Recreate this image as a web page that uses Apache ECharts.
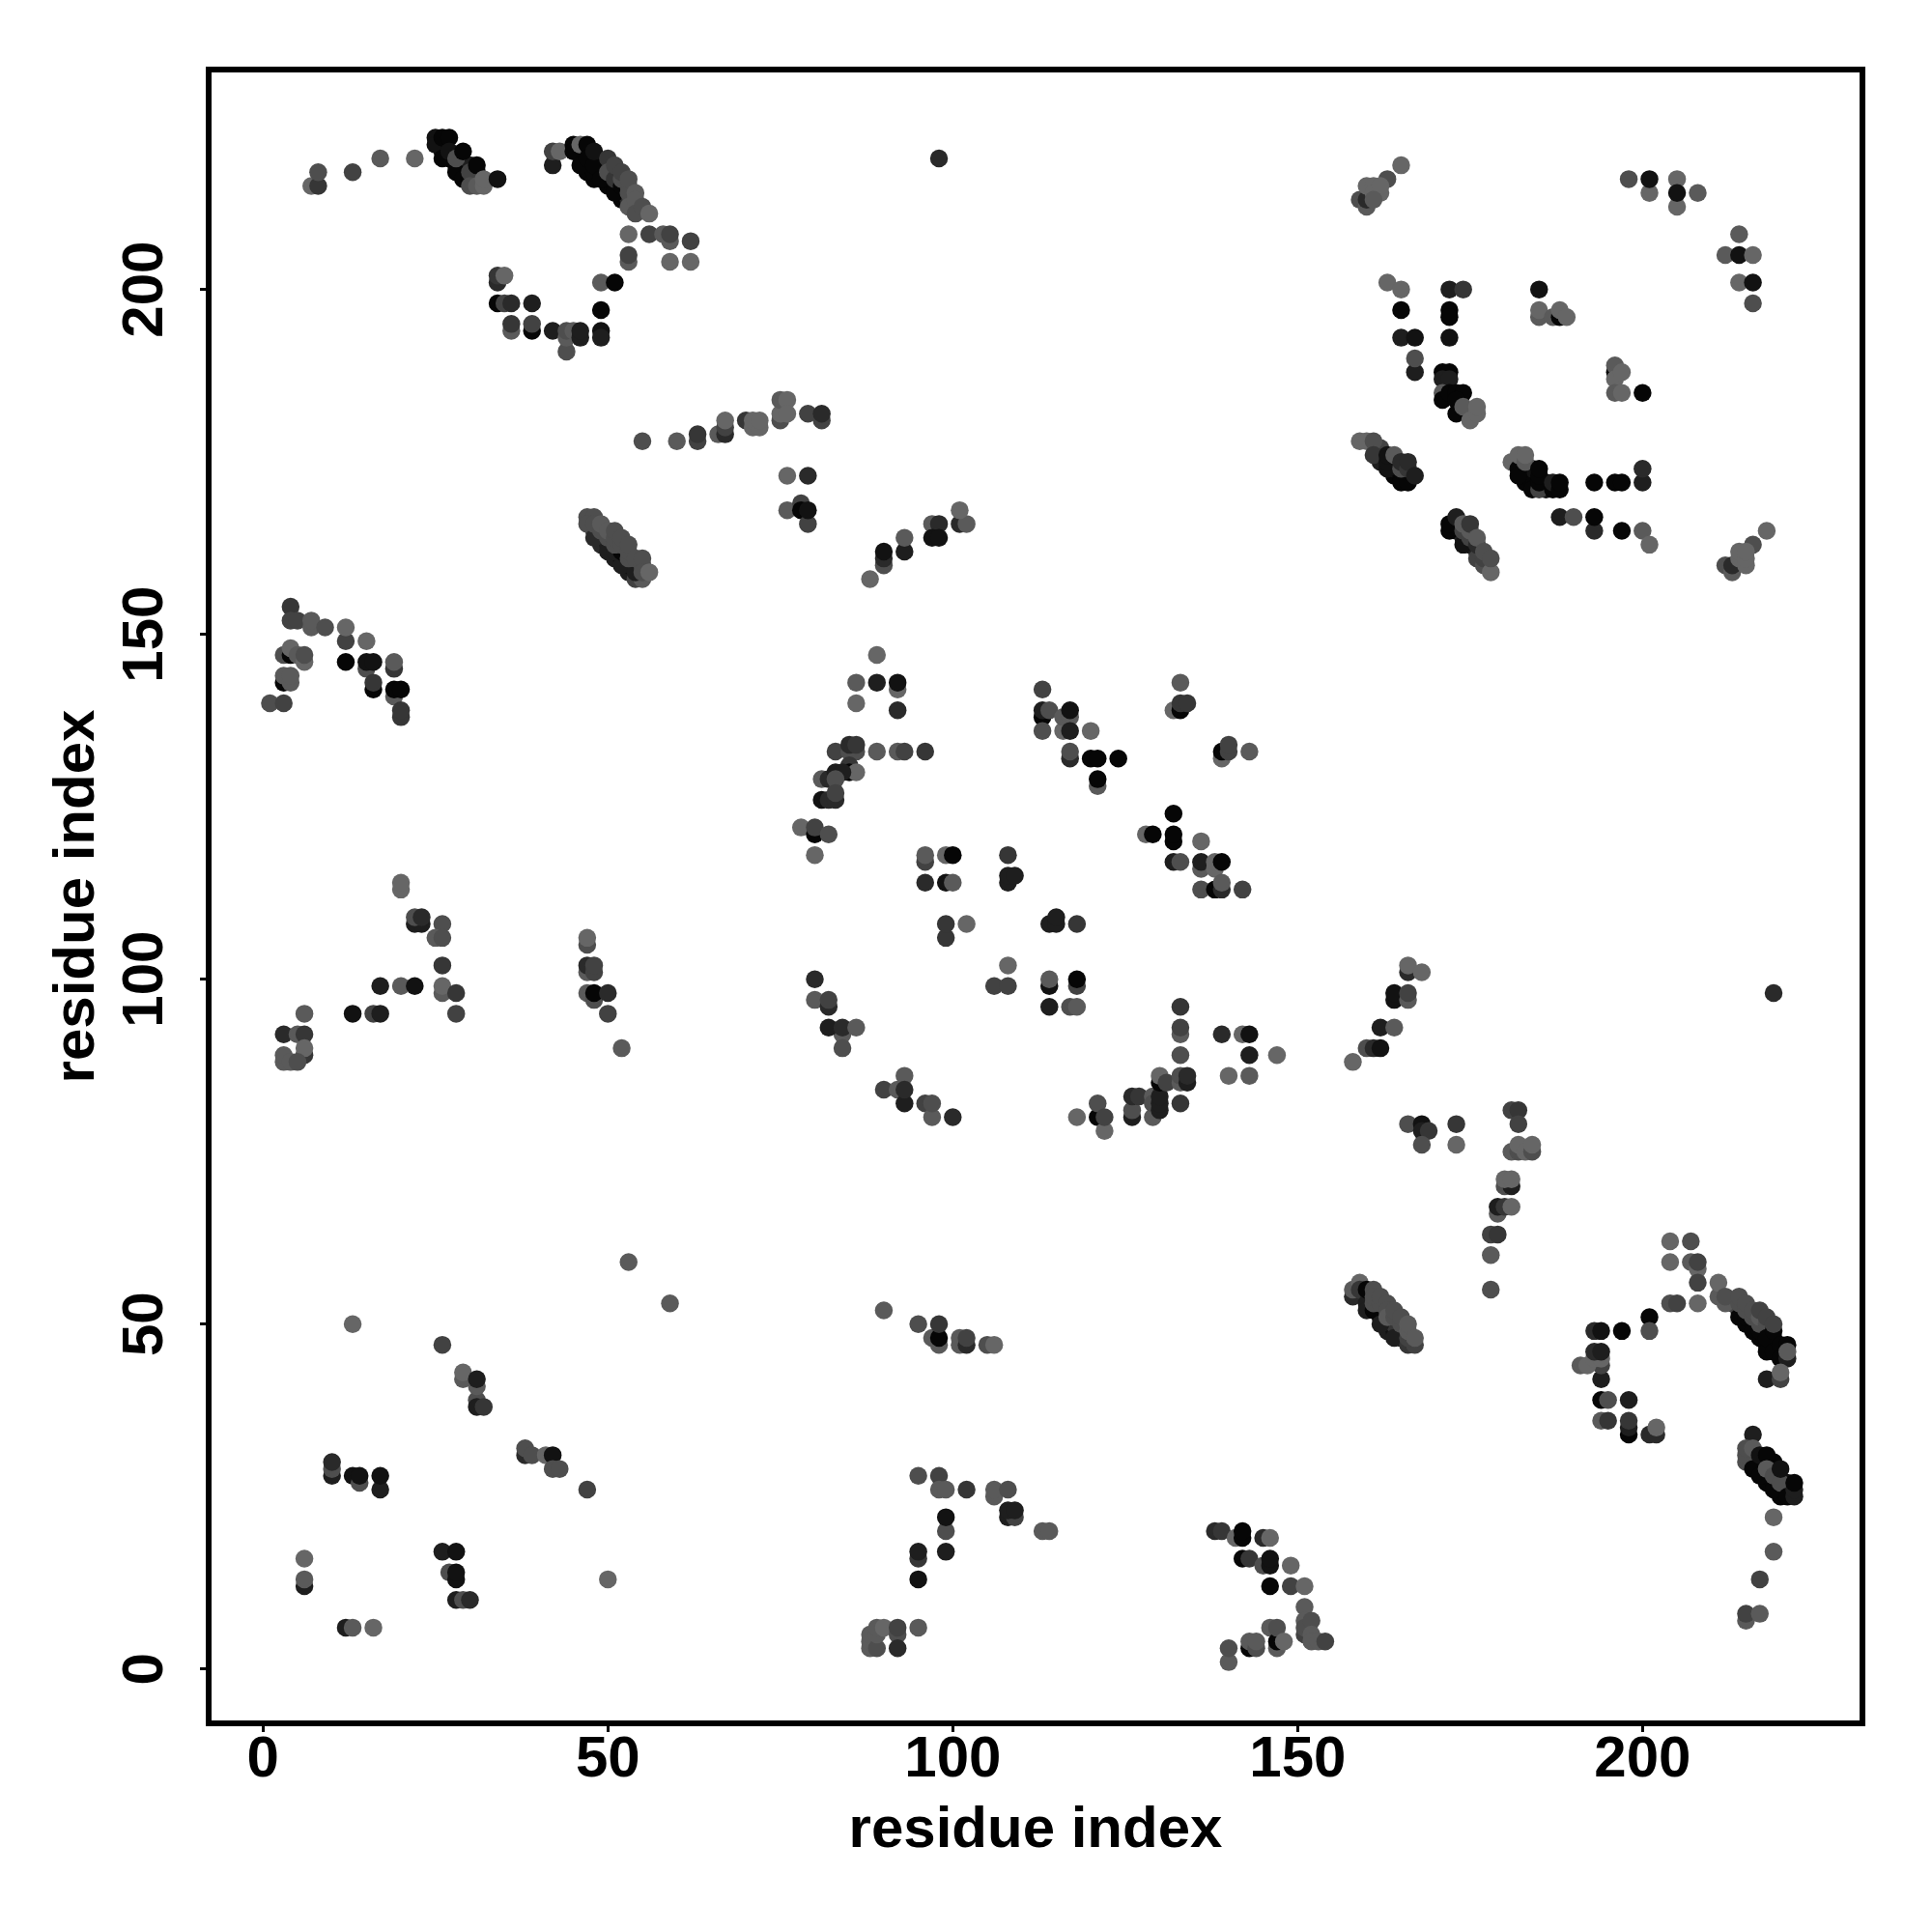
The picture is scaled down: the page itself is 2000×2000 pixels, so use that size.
<!DOCTYPE html>
<html>
<head>
<meta charset="utf-8">
<style>html,body{margin:0;padding:0;background:#fff}#c{width:2000px;height:2000px}</style>
<script src="https://cdn.jsdelivr.net/npm/echarts@6/dist/echarts.min.js"></script>
</head>
<body>
<div id="c"></div>
<script>
// Each contact: [residue i, residue j, strength 0..9]. Later entries are drawn on top.
const topLeftContacts = [
[7,215,1],[8,215,5],[8,217,3],[13,217,4],[17,219,2],[22,219,1],
[26,220,9],[27,219,9],[28,218,9],[29,218,8],[29,217,9],[30,218,7],[31,217,8],[31,216,8],
[25,222,8],[25,221,8],[26,222,9],[26,219,9],[27,222,9],[27,220,8],[28,217,9],[28,219,3],[29,220,9],[29,216,9],[30,216,9],[30,217,4],[31,218,9],[30,215,3],[31,215,2],[32,215,1],[32,216,1],[34,216,8],
[47,217,9],[48,216,9],[48,217,9],[49,217,9],[49,218,8],[50,215,9],[50,216,9],[51,215,9],[52,213,9],[52,214,9],[53,213,6],
[42,218,7],[42,220,4],[43,220,1],[45,221,9],[45,220,9],[46,218,9],[46,221,1],[47,221,9],[47,219,9],[48,218,9],[48,220,8],[49,216,9],[50,219,5],[51,214,9],[50,217,3],[51,216,5],[51,218,4],[52,215,9],[52,216,3],[52,217,4],[53,215,3],[53,214,3],[53,216,3],[53,212,2],[54,214,2],[54,213,2],[54,211,3],[55,212,3],[56,211,1],
[53,208,1],[56,208,4],[58,208,2],[59,207,2],[59,208,4],[62,207,4],[59,204,1],[62,204,1],[53,204,2],[53,205,4],
[49,201,2],[51,201,9],[49,197,9],[49,194,8],[49,193,7],
[34,201,6],[34,202,5],[35,202,1],[34,198,9],[35,198,4],[36,198,6],[39,198,7],[36,194,2],[36,195,5],[39,194,9],[39,195,4],[42,194,7],[44,191,3],[44,193,2],[44,194,3],[45,194,2],[46,193,7],[46,194,7],
[55,178,3],[60,178,2],[63,178,4],[63,179,5],[66,179,2],[67,179,6],[67,180,4],[67,181,1],[70,181,5],[71,180,1],[71,181,1],
[48,165,6],[49,164,6],[49,163,6],[50,163,7],[51,161,7],[52,161,8],[53,159,7],[53,160,8],[54,160,7],
[47,167,3],[48,167,3],[47,166,3],[48,164,6],[50,162,7],[52,160,7],[51,162,7],[54,158,4],[55,158,2],[54,159,7],[52,162,9],[48,166,3],[49,165,3],[49,166,2],[50,164,3],[50,165,2],[51,163,3],[51,164,3],[51,165,3],[52,163,3],[52,164,3],[53,161,3],[53,162,3],[53,163,3],[54,161,3],[55,160,3],[55,161,3],[55,159,3],[56,159,1]
];
const topMiddleContacts = [
[98,219,6],
[72,180,1],[72,181,1],[75,181,3],[75,182,1],[75,184,2],[76,184,1],[76,182,1],[79,182,4],[81,181,4],[81,182,6],
[76,173,1],[79,173,6],[76,168,2],[78,169,4],[78,168,9],[79,166,4],[79,168,8],
[88,158,1],[90,160,3],[90,161,6],[90,162,8],[93,162,7],[93,164,2],
[97,166,2],[98,166,6],[97,164,8],[98,164,8],[101,166,6],[102,166,2],[101,168,1]
];
const topRightContacts = [
[165,218,1],[163,216,3],[159,213,3],[160,212,2],[160,213,6],[160,215,1],[161,215,1],[161,214,1],[162,214,1],[162,215,1],[161,213,2],
[198,216,3],[201,214,1],[201,216,8],[205,212,1],[205,216,1],[205,214,8],[208,214,2],
[214,208,2],[212,205,2],[214,205,8],[216,205,1],[214,201,1],[216,201,8],[216,198,3],
[163,201,1],[165,200,1],[165,197,9],[165,193,7],[167,193,8],[167,188,7],[167,190,3],
[172,200,7],[174,200,5],[172,197,9],[172,196,9],[172,193,8],
[185,200,8],[185,196,2],[185,197,1],[187,196,2],[188,196,9],[188,197,1],[189,196,1],
[196,188,9],[196,189,2],[196,187,1],[197,188,1],[196,185,2],[197,185,1],[200,185,9],
[171,188,9],[172,188,9],[171,187,7],[172,187,7],[171,185,2],[171,184,9],[172,185,9],[173,185,9],[174,185,9],[173,184,9],[173,182,9],[175,182,9],[174,183,2],[175,181,1],[176,182,1],[176,183,1],
[164,173,9],[164,174,8],[165,173,9],[166,173,9],[162,175,7],[164,175,7],[162,177,4],
[159,178,1],[160,178,1],[161,178,3],[161,176,5],[163,174,8],[163,175,8],[163,176,8],[164,176,2],[165,172,9],[166,172,9],[165,174,3],[165,175,6],[166,174,5],[166,175,6],[167,173,7],
[183,172,9],[183,173,9],[183,174,9],[184,172,9],[184,173,9],[184,174,8],[186,171,8],[186,172,8],
[181,175,1],[182,174,9],[182,173,9],[182,176,1],[183,175,2],[183,176,1],[184,171,9],[185,171,4],[185,172,9],[185,173,9],[185,174,9],[187,171,9],[187,172,7],[188,171,9],[188,172,9],
[193,172,9],[196,172,9],[197,172,9],[200,172,7],[200,174,6],
[188,167,7],[190,167,3],[193,165,6],[193,167,9],[197,165,9],[200,165,2],[201,163,1],
[173,165,9],[173,166,8],[174,164,7],[175,163,8],[176,162,7],
[172,165,9],[172,166,9],[173,167,7],[174,163,8],[174,165,4],[174,166,2],[175,164,4],[175,165,2],[175,166,5],[176,161,4],[176,163,6],[176,164,2],[177,160,3],[177,161,4],[177,162,3],[178,159,1],[178,161,3],
[218,165,1],[216,163,3],[212,160,3],[213,159,2],[213,160,6],[214,161,1],[214,162,1],[215,160,1],[215,161,1],[215,162,1]
];
const midLeftContacts = [
[4,154,5],[4,152,4],[5,152,4],[7,151,2],[7,152,2],[9,151,3],[12,149,4],[12,151,1],[15,149,1],
[12,146,9],[15,145,3],[15,146,8],[16,146,8],[19,145,5],[19,146,2],[16,142,9],[16,143,5],[19,141,2],[19,142,9],[20,142,9],[20,138,5],[20,139,5],
[3,147,3],[4,147,9],[4,148,1],[5,147,2],[6,146,1],[6,147,3],[3,143,9],[3,144,2],[4,143,2],[4,144,2],[1,140,3],[3,140,4],
[20,113,1],[20,114,1],[22,108,7],[23,108,7],[22,109,3],[23,109,6],[26,108,3],[25,106,2],[26,106,3],
[26,102,5],[26,98,2],[26,99,1],[28,98,5],[28,95,4],
[17,99,7],[20,99,2],[22,99,8],[13,95,8],[16,95,4],[17,95,7],
[6,95,2],[3,92,6],[5,92,2],[6,92,5],[6,89,5],[6,90,1],[3,88,2],[3,89,2],[4,88,2],[5,88,3],
[47,105,3],[47,106,1],[47,101,2],[47,102,6],[48,101,4],[48,102,4],[47,98,2],[48,97,3],[48,98,9],[50,98,6],[50,95,4],[52,90,2]
];
const centerContacts = [
[89,147,1],[86,143,2],[89,143,7],[92,142,1],[92,143,8],[86,140,1],[92,139,6],
[83,133,4],[85,133,3],[86,133,3],[85,134,6],[86,134,5],[89,133,2],[92,133,2],[93,133,4],[96,133,5],
[85,131,5],[85,130,9],[86,130,1],[81,129,2],[82,129,6],[83,130,7],[84,130,7],[83,129,3],
[81,126,8],[82,126,6],[83,126,6],[83,127,4],
[78,122,1],[80,121,9],[80,122,4],[82,121,3],[80,118,1],
[96,117,4],[96,118,2],[99,118,1],[100,118,9],[96,114,6],[99,114,8],[100,114,2],
[108,118,5],[108,114,7],[108,115,7],[109,115,7],[99,106,5],[99,108,5],[102,108,1],
[114,108,7],[115,108,7],[115,109,7],[118,108,5],
[108,102,1],[106,99,4],[108,99,4],[114,99,8],[114,100,2],[118,99,4],[118,100,9],[114,96,7],[117,96,3],[118,96,2],
[80,100,6],[80,97,2],[82,96,6],[82,97,4],[84,92,2],[84,90,3],[82,93,7],[84,93,6],[86,93,2],
[90,84,4],[92,84,2],[93,86,2],[93,82,7],[93,84,6],[96,82,4],[97,80,2],[97,82,3],[100,80,6],
[118,80,1],[121,80,9],[121,82,3],[122,78,1],[122,80,4],
[126,80,7],[126,81,3],[126,83,6],[127,83,5],[129,80,2],[129,83,2],[129,82,3],[130,81,7],[130,82,7],[130,83,7],[130,85,9],[130,86,1],[131,85,4],[133,82,5],
[133,85,2],[133,86,3],[134,85,7],[134,86,6],[133,89,3],[133,92,2],[133,93,4],[133,96,5],
[139,92,6],[142,92,1],[143,92,8],[143,89,7],[147,89,1],[140,86,1],[143,86,2],
[113,142,4],[113,138,9],[113,139,7],[114,139,3],[113,136,3],[116,136,1],[116,138,2],[117,138,2],[117,139,8],[117,136,7],[120,136,1],
[117,132,6],[117,133,3],[120,132,9],[121,132,9],[124,132,9],[121,128,2],[121,129,9],
[133,143,2],[132,139,1],[133,139,9],[133,140,5],[134,140,5],
[139,132,1],[139,133,9],[140,133,4],[140,134,4],[143,133,2],
[132,124,9],[128,121,1],[129,121,9],[132,120,9],[132,121,9],
[132,117,7],[133,117,3],[136,120,1],[136,116,2],[136,117,7],[138,116,1],[138,117,1],[139,117,9],
[136,113,3],[138,113,9],[139,113,6],[139,114,2],[142,113,4]
];
const midRightContacts = [
[219,98,6],
[166,101,6],[166,102,1],[168,101,1],
[164,97,8],[164,98,8],[166,97,2],[166,98,4],
[162,93,7],[164,93,2],[160,90,3],[161,90,6],[162,90,8],[158,88,1],
[166,79,3],[168,79,8],[168,78,7],[169,78,5],[168,76,3],[173,79,5],[173,76,1],
[181,81,4],[182,81,5],[182,79,4],
[181,75,2],[182,75,3],[182,76,1],[183,75,1],[184,75,3],[184,76,1]
];
const bottomLeftContacts = [
[53,59,2],[59,53,2],[13,50,1],[26,47,4],
[29,42,2],[29,43,1],[31,39,3],[31,38,7],[32,38,5],[31,41,2],[31,42,7],
[38,31,6],[38,32,3],[39,31,3],[41,31,1],[42,31,8],[42,29,3],[43,29,3],[47,26,4],
[10,28,7],[10,29,3],[10,30,6],[13,28,8],[14,27,3],[14,28,8],[17,26,7],[17,28,8],
[6,16,1],[6,12,7],[6,13,2],
[26,17,7],[28,17,8],[27,14,3],[28,13,8],[28,14,8],[28,10,7],[29,10,3],[30,10,6],
[50,13,1],[12,6,7],[13,6,2],[16,6,1]
];
const bottomMiddleContacts = [
[90,52,2],[95,50,3],[97,48,2],[98,47,2],[98,48,9],[98,50,5],
[101,47,2],[101,48,2],[102,47,6],[102,48,4],[105,47,3],[106,47,1],
[95,28,3],[98,28,4],[98,26,2],[99,26,2],[102,26,5],[106,25,2],[106,26,2],[108,26,3],
[108,22,7],[109,22,4],[108,23,7],[109,23,7],
[99,20,3],[99,22,8],[99,17,7],[95,16,5],[95,17,7],[95,13,8],
[113,20,2],[114,20,2],
[88,3,2],[88,4,2],[88,5,2],[89,3,3],[89,5,2],[89,6,2],[90,6,1],[92,5,3],[92,6,4],[92,3,6],[95,6,2],
[138,20,6],[139,20,5],[141,19,1],[142,19,9],[142,20,9],[145,19,6],[146,19,1],
[142,16,9],[143,16,5],[145,15,3],[146,15,8],[146,16,8],[149,15,1],
[146,12,9],[149,12,4],[151,12,1],[151,9,2],[151,7,2],
[140,1,2],[140,3,3],[143,3,9],[143,4,2],[144,3,3],[144,4,2],
[146,6,2],[147,3,2],[147,4,9],[147,6,3],[148,4,1]
];
const bottomRightContacts = [
[151,5,4],[151,6,3],[152,7,3],[152,5,2],[152,4,2],[153,4,2],[154,4,4],
[180,70,3],[181,70,7],[180,71,1],[181,71,1],
[179,66,2],[179,67,7],[180,67,5],[181,67,1],
[178,63,4],[179,63,5],[178,60,2],[178,55,3],
[162,51,8],[163,50,9],[163,49,7],[164,49,8],[165,48,7],[165,49,7],[164,50,5],[162,52,8],
[158,54,6],[158,55,2],[159,56,1],[159,55,5],[160,53,7],[160,52,7],[160,55,9],[161,55,3],[161,52,9],[162,50,7],[164,48,7],[166,47,5],[167,47,4],[166,48,4],
[161,53,3],[161,54,3],[162,53,3],[162,54,3],[163,53,3],[163,52,3],[163,51,2],[164,51,3],[164,52,3],[165,50,3],[165,51,3],[166,49,2],[166,50,2],[167,48,2],
[204,62,1],[207,62,3],[204,59,1],[207,59,2],[208,58,1],[208,59,4],[208,56,4],[208,53,1],[204,53,3],[205,53,4],
[201,51,9],[201,49,3],
[193,49,6],[194,49,8],[197,49,9],
[194,42,7],[194,44,4],[191,44,2],[192,44,1],[193,45,1],[194,45,1],[193,46,6],[194,46,7],
[194,39,9],[195,39,3],[198,39,7],[194,36,2],[195,36,5],[198,34,9],[198,35,7],[198,36,5],[201,34,6],[202,34,6],[202,35,1],
[214,52,9],[215,50,9],[216,50,9],[217,48,9],[218,47,9],[218,49,9],[219,47,9],[219,48,9],[220,46,9],[213,53,4],
[211,54,2],[211,56,1],[212,53,2],[212,54,3],[214,51,9],[215,51,9],[214,53,3],[214,54,3],[215,52,3],[215,53,3],[216,49,9],[217,49,9],[216,51,3],[216,52,3],[217,50,3],[217,51,2],[217,52,4],[218,50,3],[218,51,4],[218,46,9],[218,48,9],[219,46,9],[219,49,9],[219,50,4],
[220,47,9],[221,47,9],[220,45,9],[221,45,7],[221,46,2],[218,42,7],[220,42,4],[220,43,1],
[217,29,9],[217,30,8],[218,27,9],[218,28,9],[219,27,9],[219,30,9],[220,25,9],[220,26,9],[221,26,8],[221,27,8],
[216,34,7],[215,30,3],[215,31,3],[215,32,3],[216,32,2],[216,29,9],[217,28,9],[217,31,8],[218,31,9],[218,29,2],[219,26,9],[219,28,3],[220,27,3],[220,29,8],[221,25,9],[222,25,7],[222,26,7],[222,27,9],
[219,22,1],[219,17,2],[217,13,4],[215,7,2],[215,8,4],[217,8,2]
];
const tickValues = [0, 50, 100, 150, 200];
const axisTitle = 'residue index';

const contacts = [].concat(topLeftContacts, topMiddleContacts, topRightContacts,
  midLeftContacts, centerContacts, midRightContacts,
  bottomLeftContacts, bottomMiddleContacts, bottomRightContacts);

const FONT = '"Liberation Sans", Arial, sans-serif';
const chart = echarts.init(document.getElementById('c'), null, {renderer: 'canvas'});
function axis(extra) {
  return Object.assign({
    type: 'value', min: -7.88, max: 231.88,
    name: axisTitle, nameLocation: 'middle',
    nameTextStyle: {fontFamily: FONT, fontWeight: 'bold', fontSize: 60, color: '#000'},
    splitLine: {show: false},
    axisLine: {show: false, onZero: false},
    axisTick: {show: true, inside: false, length: 9, lineStyle: {color: '#000', width: 3}, customValues: tickValues}
  }, extra);
}
const labelStyle = {fontFamily: FONT, fontWeight: 'bold', fontSize: 60, color: '#000', customValues: tickValues, hideOverlap: false, showMinLabel: true, showMaxLabel: true};
chart.setOption({
  animation: false,
  backgroundColor: '#fff',
  grid: {left: 216, top: 72, width: 1712, height: 1712, show: true, borderColor: '#000', borderWidth: 6, backgroundColor: 'transparent'},
  xAxis: axis({nameGap: 81, axisLabel: Object.assign({margin: 8}, labelStyle)}),
  yAxis: axis({nameGap: 106, axisLabel: Object.assign({margin: 65, rotate: 90, align: 'center', verticalAlign: 'middle'}, labelStyle)}),
  visualMap: {show: false, dimension: 2, min: 0, max: 9, inRange: {color: ['#727272', '#060606']}},
  series: [{type: 'scatter', data: contacts, symbol: 'circle', symbolSize: 18.5, itemStyle: {opacity: 1}, clip: false}]
});
</script>
</body>
</html>
